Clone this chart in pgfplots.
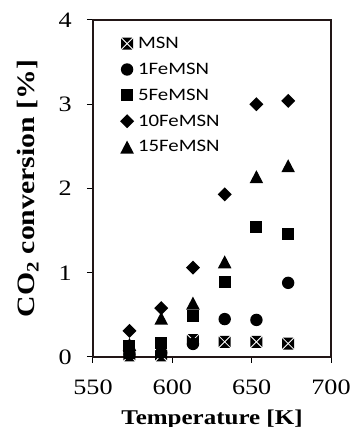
\documentclass[border=0pt]{standalone}
\usepackage{fontspec}
\setmainfont{Liberation Serif}[FakeStretch=1.19]
\newfontfamily\carlito{Carlito}[FakeStretch=1.19]
\usepackage{pgfplots}
\pgfplotsset{compat=1.18}
\definecolor{framecol}{RGB}{34,22,22}
% MSN: black square with an X cut out (four filled triangles, no white ink)
\pgfdeclareplotmark{msn}{%
  \pgfpathmoveto{\pgfqpoint{-5.15pt}{-6pt}}\pgfpathlineto{\pgfqpoint{5.15pt}{-6pt}}\pgfpathlineto{\pgfqpoint{0pt}{-0.85pt}}\pgfpathclose
  \pgfpathmoveto{\pgfqpoint{-5.15pt}{6pt}}\pgfpathlineto{\pgfqpoint{5.15pt}{6pt}}\pgfpathlineto{\pgfqpoint{0pt}{0.85pt}}\pgfpathclose
  \pgfpathmoveto{\pgfqpoint{-6pt}{-5.15pt}}\pgfpathlineto{\pgfqpoint{-6pt}{5.15pt}}\pgfpathlineto{\pgfqpoint{-0.85pt}{0pt}}\pgfpathclose
  \pgfpathmoveto{\pgfqpoint{6pt}{-5.15pt}}\pgfpathlineto{\pgfqpoint{6pt}{5.15pt}}\pgfpathlineto{\pgfqpoint{0.85pt}{0pt}}\pgfpathclose
  \pgfusepathqfill}
\pgfdeclareplotmark{circ}{\pgfpathcircle{\pgfpointorigin}{6.2pt}\pgfusepathqfill}
\pgfdeclareplotmark{sq}{\pgfpathrectangle{\pgfqpoint{-6pt}{-6pt}}{\pgfqpoint{12pt}{12pt}}\pgfusepathqfill}
\pgfdeclareplotmark{dia}{%
  \pgfpathmoveto{\pgfqpoint{0pt}{7pt}}\pgfpathlineto{\pgfqpoint{7pt}{0pt}}%
  \pgfpathlineto{\pgfqpoint{0pt}{-7pt}}\pgfpathlineto{\pgfqpoint{-7pt}{0pt}}\pgfpathclose\pgfusepathqfill}
\pgfdeclareplotmark{tri}{%
  \pgfpathmoveto{\pgfqpoint{-6.8pt}{-6.5pt}}\pgfpathlineto{\pgfqpoint{6.8pt}{-6.5pt}}%
  \pgfpathlineto{\pgfqpoint{0pt}{6.5pt}}\pgfpathclose\pgfusepathqfill}
\begin{document}
\begin{tikzpicture}
\begin{axis}[
  anchor=south west, at={(0pt,0pt)},
  width=238pt, height=337pt, scale only axis,
  xmin=550, xmax=700, ymin=0, ymax=4,
  xtick={550,600,650,700}, ytick={0,1,2,3,4},
  tick align=outside, major tick length=6pt,
  xtick pos=bottom, ytick pos=left,
  axis line style={line width=1.3pt, black},
  every tick/.append style={black, line width=1pt},
  /pgf/number format/assume math mode=true,
  ticklabel style={font=\fontsize{22}{22}\selectfont, inner sep=0pt},
  xticklabel style={anchor=north, yshift=-17pt},
  yticklabel style={anchor=east, xshift=-15pt},
  xlabel={Temperature [K]},
  ylabel={CO\textsubscript{2} conversion [\%]},
  label style={font=\fontsize{21}{21}\selectfont\bfseries, inner sep=0pt},
  xlabel style={at={(axis description cs:0.5,0)}, anchor=north, yshift=-53pt},
  ylabel style={at={(axis description cs:0,0.5)}, anchor=center, yshift=65pt,
    font=\fontsize{25}{25}\selectfont\bfseries},
  clip=false,
  legend image code/.code={\draw[#1] plot coordinates {(0pt,0pt)};},
  legend style={draw=none, fill=none, inner sep=0pt, at={(rel axis cs:0.113,0.9525)}, anchor=north west,
    font=\carlito\fontsize{17.5}{17.5}\selectfont, row sep=11pt, column sep=3pt,
    nodes={inner sep=1pt}},
  legend cell align=left,
]
\addplot[only marks, mark=msn, black]
  coordinates {(573,0.02) (593,0.02) (613,0.20) (633,0.18) (653,0.18) (673,0.16)};
\addlegendentry{MSN}
\addplot[only marks, mark=circ, black] coordinates {(573,0.03) (593,0.05) (613,0.155) (633,0.45) (653,0.44) (673,0.88)};
\addlegendentry{1FeMSN}
\addplot[only marks, mark=sq, black] coordinates {(573,0.13) (593,0.17) (613,0.49) (633,0.89) (653,1.545) (673,1.46)};
\addlegendentry{5FeMSN}
\addplot[only marks, mark=dia, black] coordinates {(573,0.31) (593,0.58) (613,1.06) (633,1.93) (653,3.00) (673,3.04)};
\addlegendentry{10FeMSN}
\addplot[only marks, mark=tri, black] coordinates {(573,0.15) (593,0.46) (613,0.64) (633,1.13) (653,2.14) (673,2.27)};
\addlegendentry{15FeMSN}
\draw[framecol, line width=1.3pt] (rel axis cs:0,0) rectangle (rel axis cs:1,1);
\end{axis}
\pgfresetboundingbox
\useasboundingbox (-93pt,-70pt) rectangle (258pt,357pt);
\end{tikzpicture}
\end{document}
